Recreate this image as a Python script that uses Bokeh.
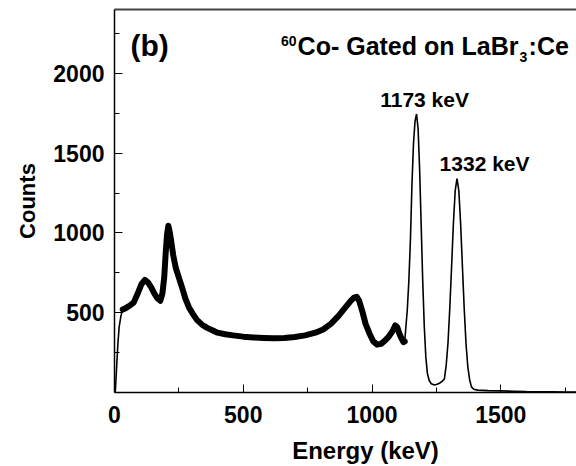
from bokeh.plotting import figure
from bokeh.models import Range1d, FixedTicker, LinearAxis, ColumnDataSource
from bokeh.core.properties import value
from bokeh.embed import file_html
from bokeh.resources import INLINE

# ---- data (energy in keV, counts) ----
energy_rise = [3, 8, 13, 18, 25, 32]
counts_rise = [0, 150, 300, 410, 480, 520]

energy_cont = [32, 45, 60, 75, 90, 105, 118, 130, 142, 155, 167, 178, 186, 193, 199,
               204, 209, 214, 220, 228, 238, 250, 262, 275, 290, 305, 320, 340, 360,
               380, 400, 430, 460, 500, 540, 580, 620, 660, 700, 740, 780, 810, 840,
               870, 895, 915, 930, 940, 950, 962, 975, 990, 1005, 1020, 1035, 1050,
               1065, 1080, 1090, 1098, 1106, 1114, 1122, 1127]
counts_cont = [520, 530, 545, 565, 620, 680, 705, 690, 660, 620, 590, 575, 620, 720, 880,
               990, 1045, 1010, 950, 860, 780, 720, 660, 590, 530, 490, 455, 425, 405,
               390, 375, 365, 358, 350, 345, 342, 340, 342, 348, 358, 375, 395, 430,
               480, 530, 570, 595, 600, 575, 510, 430, 370, 320, 300, 305, 325,
               350, 385, 420, 410, 370, 340, 315, 320]

energy_peaks = [1127, 1131, 1137, 1143, 1149, 1155, 1161, 1167, 1173, 1179, 1185, 1191,
                1197, 1203, 1209, 1215, 1222, 1230, 1240, 1250, 1262, 1272, 1281, 1288,
                1295, 1302, 1309, 1316, 1323, 1330, 1337, 1344, 1351, 1358, 1365, 1372,
                1379, 1386, 1395, 1410, 1450, 1500, 1550, 1600, 1650, 1700, 1750, 1794]
counts_peaks = [320, 400, 520, 700, 950, 1300, 1560, 1700, 1745, 1650, 1390, 1040,
                690, 410, 220, 120, 75, 55, 48, 50, 58, 70, 85, 170,
                310, 530, 790, 1060, 1265, 1340, 1265, 1060, 790, 525, 305, 160,
                80, 35, 20, 15, 12, 10, 8, 6, 5, 4, 3, 2]

x_ticks = [0, 500, 1000, 1500]
x_minor = [250, 750, 1250, 1750]
y_ticks = [500, 1000, 1500, 2000]
y_minor = [250, 750, 1250, 1750, 2250]

peak_labels = ["1173 keV", "1332 keV"]
peak_label_x = [1204, 1437]
peak_label_y = [1836, 1438]

FONT = "Liberation Sans"

p = figure(width=576, height=466, output_backend="svg", toolbar_location=None,
           x_range=Range1d(0, 1794), y_range=Range1d(0, 2400),
           min_border_left=114, min_border_right=0, min_border_top=9,
           min_border_bottom=73)
p.outline_line_color = None
p.grid.visible = False
p.background_fill_color = "white"
p.border_fill_color = "white"

# spectrum
p.line(energy_rise, counts_rise, line_color="black", line_width=1.6)
p.line(energy_cont, counts_cont, line_color="black", line_width=6,
       line_join="round", line_cap="round")
p.line(energy_peaks, counts_peaks, line_color="black", line_width=1.6)

# axes styling
for ax in (p.xaxis[0], p.yaxis[0]):
    ax.axis_line_color = "black"
    ax.axis_line_width = 1.5
    ax.major_tick_in = 8
    ax.major_tick_out = 0
    ax.minor_tick_in = 5
    ax.minor_tick_out = 0
    ax.major_tick_line_color = "black"
    ax.minor_tick_line_color = "black"
    ax.major_label_text_font = FONT
    ax.major_label_text_font_style = "bold"
    ax.major_label_text_font_size = "23px"
    ax.major_label_text_color = "black"
    ax.axis_label_text_font = FONT
    ax.axis_label_text_font_style = "bold"
    ax.axis_label_text_color = "black"

p.xaxis[0].ticker = FixedTicker(ticks=x_ticks, minor_ticks=x_minor)
p.yaxis[0].ticker = FixedTicker(ticks=y_ticks, minor_ticks=y_minor)
p.xaxis[0].major_label_standoff = 13
p.yaxis[0].major_label_standoff = 10

# the original is cropped on the right, so its x title sits right of this frame's centre
p.xaxis[0].axis_label = "\u00a0" * 6 + "Energy (keV)"
p.xaxis[0].axis_label_text_font_size = "24px"
p.xaxis[0].axis_label_standoff = 11
p.yaxis[0].axis_label = "Counts"
p.yaxis[0].axis_label_text_font_size = "22px"
p.yaxis[0].axis_label_standoff = 10

# top border
top = LinearAxis(ticker=FixedTicker(ticks=[]), major_label_text_font_size="0px",
                 major_tick_in=0, major_tick_out=0, minor_tick_in=0, minor_tick_out=0,
                 axis_line_color="#444444", axis_line_width=2)
p.add_layout(top, "above")

# panel letter
p.text(x=[62], y=[2177], text=["(b)"], text_font=value(FONT), text_font_style="bold",
       text_font_size="30px", text_align="left", text_baseline="middle", text_color="black")

# title with super/subscripts
p.text(x=[707], y=[2233], text=["60"], text_font=value(FONT), text_font_style="bold",
       text_font_size="14px", text_align="right", text_baseline="top", text_color="black")
p.text(x=[711], y=[2171], text=["Co- Gated on LaBr"], text_font=value(FONT),
       text_font_style="bold", text_font_size="25px", text_align="left",
       text_baseline="middle", text_color="black")
p.text(x=[1573], y=[2105], text=["3"], text_font=value(FONT), text_font_style="bold",
       text_font_size="14px", text_align="left", text_baseline="middle", text_color="black")
p.text(x=[1608], y=[2171], text=[":Ce"], text_font=value(FONT), text_font_style="bold",
       text_font_size="25px", text_align="left", text_baseline="middle", text_color="black")

src = ColumnDataSource(dict(x=peak_label_x, y=peak_label_y, t=peak_labels))
p.text(x="x", y="y", text="t", source=src, text_font=value(FONT), text_font_style="bold",
       text_font_size="21px", text_align="center", text_baseline="middle", text_color="black")

open("out.html", "w").write(file_html(p, INLINE))
